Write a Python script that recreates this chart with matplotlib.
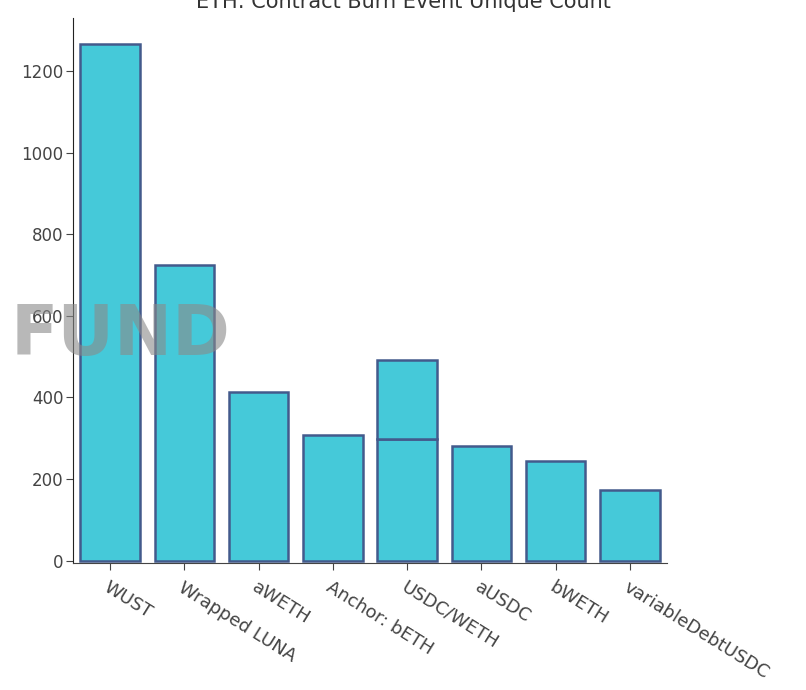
import matplotlib
matplotlib.use("Agg")
import matplotlib.pyplot as plt

# data
categorias = ["WUST", "Wrapped LUNA", "aWETH", "Anchor: bETH", "USDC/WETH",
              "aUSDC", "bWETH", "variableDebtUSDC"]
contagem = [1266, 724, 412, 309, 299, 282, 243, 172]

# second contract on USDC/WETH stacked on top
extra_cat = ["USDC/WETH"]
extra_val = [192]

cor_barra = "#45c9d9"
cor_borda = "#435a8c"

fig = plt.figure(figsize=(8.06, 6.9), dpi=100)
ax = fig.add_axes([0.0906, 0.184, 0.737, 0.79])

x = list(range(len(categorias)))
ax.bar(x, contagem, width=0.8, color=cor_barra, edgecolor=cor_borda, linewidth=1.8)

base = [contagem[categorias.index(c)] for c in extra_cat]
xe = [categorias.index(c) for c in extra_cat]
ax.bar(xe, extra_val, bottom=base, width=0.8, color=cor_barra,
       edgecolor=cor_borda, linewidth=1.8)

ax.set_xlim(-0.5, len(categorias) - 0.5)
ax.set_ylim(-6, 1330)
ax.set_yticks([0, 200, 400, 600, 800, 1000, 1200])
ax.set_xticks(x)
ax.set_xticklabels(categorias, rotation=-32, ha="left", va="top",
                   rotation_mode="anchor", fontsize=13)

ax.spines["top"].set_visible(False)
ax.spines["right"].set_visible(False)
ax.spines["left"].set_color("#222222")
ax.spines["bottom"].set_color("#444444")
ax.tick_params(axis="both", colors="#444444", labelcolor="#444444",
               length=5, direction="out")
ax.tick_params(axis="y", labelsize=12, pad=2)
ax.tick_params(axis="x", pad=6)

fig.text(0.5, 0.997, "ETH: Contract Burn Event Unique Count", ha="center",
         va="center", fontsize=15, color="#333333")

# marca d'agua
fig.text(0.149, 0.514, "FUND", ha="center", va="center", fontsize=50,
         fontweight="bold", color="#8a8a8a", alpha=0.6)

plt.savefig("out.png", dpi=100)
